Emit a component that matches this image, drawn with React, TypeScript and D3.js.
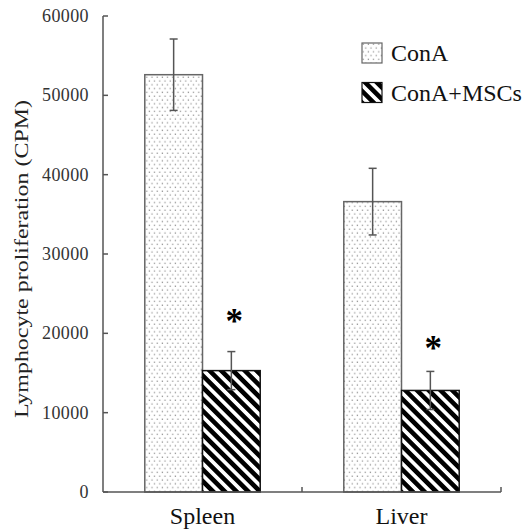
import React from "react";
import * as d3 from "d3";

const categories = ["Spleen", "Liver"];
const seriesNames = ["ConA", "ConA+MSCs"];
const conaValues = [52600, 36600];
const conaErrors = [4500, 4200];
const mscValues = [15300, 12800];
const mscErrors = [2400, 2400];
const asteriskValues = [22000, 18700];
const yTicks = [0, 10000, 20000, 30000, 40000, 50000, 60000];

const W = 524;
const H = 529;
const FONT = "'Liberation Serif', 'Times New Roman', serif";

export default function App() {
  const x = d3.scaleBand<string>().domain(categories).range([103, 501]).padding(0);
  const y = d3.scaleLinear().domain([0, 60000]).range([492, 16]);
  const bw = x.bandwidth();
  const gw = bw * 0.58;
  const x1 = d3
    .scaleBand<string>()
    .domain(seriesNames)
    .range([(bw - gw) / 2, (bw + gw) / 2])
    .padding(0);

  const series = [
    { name: seriesNames[0], values: conaValues, errors: conaErrors, fill: "url(#dots)", stroke: "#666" },
    { name: seriesNames[1], values: mscValues, errors: mscErrors, fill: "url(#hatch)", stroke: "#111" },
  ];
  const axisColor = "#555";
  const capW = 8;

  return (
    <svg width={W} height={H} style={{ position: "absolute", left: 0, top: 0, background: "#fff" }}>
      <defs>
        <pattern id="dots" patternUnits="userSpaceOnUse" width={5.2} height={7.6}>
          <rect width={5.2} height={7.6} fill="#fff" />
          <rect x={0.6} y={0.6} width={1.2} height={1.2} fill="#8a8a8a" />
          <rect x={3.2} y={4.4} width={1.2} height={1.2} fill="#8a8a8a" />
        </pattern>
        <pattern id="hatch" patternUnits="userSpaceOnUse" width={8.3} height={8.3} patternTransform="rotate(-45)">
          <rect width={8.3} height={8.3} fill="#fff" />
          <rect x={0} y={0} width={4.6} height={8.3} fill="#000" />
        </pattern>
      </defs>

      {/* bars */}
      {categories.map((c, ci) =>
        series.map((s) => {
          const bx = (x(c) ?? 0) + (x1(s.name) ?? 0);
          const v = s.values[ci];
          return (
            <rect
              key={c + s.name}
              x={bx}
              y={y(v)}
              width={x1.bandwidth()}
              height={y(0) - y(v)}
              fill={s.fill}
              stroke={s.stroke}
              strokeWidth={1.5}
            />
          );
        })
      )}

      {/* error bars */}
      {categories.map((c, ci) =>
        series.map((s) => {
          const cx = (x(c) ?? 0) + (x1(s.name) ?? 0) + x1.bandwidth() / 2;
          const v = s.values[ci];
          const e = s.errors[ci];
          return (
            <g key={"e" + c + s.name} stroke="#555" strokeWidth={1.5}>
              <line x1={cx} x2={cx} y1={y(v + e)} y2={y(v - e)} />
              <line x1={cx - capW / 2} x2={cx + capW / 2} y1={y(v + e)} y2={y(v + e)} />
              <line x1={cx - capW / 2} x2={cx + capW / 2} y1={y(v - e)} y2={y(v - e)} />
            </g>
          );
        })
      )}

      {/* asterisks */}
      {categories.map((c, ci) => {
        const cx = (x(c) ?? 0) + (x1(seriesNames[1]) ?? 0) + x1.bandwidth() / 2 + 3;
        return (
          <text
            key={"a" + c}
            x={cx}
            y={y(asteriskValues[ci]) + 16}
            textAnchor="middle"
            fontFamily={FONT}
            fontWeight="bold"
            fontSize={35}
            fill="#000"
          >
            *
          </text>
        );
      })}

      {/* y axis */}
      <line x1={103} x2={103} y1={y(60000)} y2={y(0)} stroke={axisColor} strokeWidth={1.5} />
      {yTicks.map((t) => (
        <g key={"t" + t}>
          <line x1={103} x2={108} y1={y(t)} y2={y(t)} stroke={axisColor} strokeWidth={1.5} />
          <text
            x={89}
            y={y(t) + 6}
            textAnchor="end"
            fontFamily={FONT}
            fontSize={18}
            letterSpacing={0.4}
            fill="#333"
          >
            {t}
          </text>
        </g>
      ))}

      {/* x axis */}
      <line x1={103} x2={501} y1={y(0)} y2={y(0)} stroke={axisColor} strokeWidth={1.5} />
      {categories.map((c) => (
        <line
          key={"xt" + c}
          x1={(x(c) ?? 0) + bw}
          x2={(x(c) ?? 0) + bw}
          y1={y(0)}
          y2={y(0) - 5}
          stroke={axisColor}
          strokeWidth={1.5}
        />
      ))}
      {categories.map((c) => (
        <text
          key={"xl" + c}
          x={(x(c) ?? 0) + bw / 2}
          y={524}
          textAnchor="middle"
          fontFamily={FONT}
          fontSize={24}
          fill="#111"
        >
          {c}
        </text>
      ))}

      {/* y title */}
      <text
        transform="translate(28,259) rotate(-90)"
        textAnchor="middle"
        fontFamily={FONT}
        fontSize={18}
        textLength={318}
        lengthAdjust="spacingAndGlyphs"
        fill="#222"
      >
        Lymphocyte proliferation (CPM)
      </text>

      {/* legend */}
      {series.map((s, i) => (
        <g key={"lg" + s.name} transform={`translate(362,${43 + i * 39.5})`}>
          <rect x={0} y={0} width={20} height={20} fill={s.fill} stroke={s.stroke} strokeWidth={1.2} />
          <text x={29} y={18} fontFamily={FONT} fontSize={24} fill="#111">
            {s.name}
          </text>
        </g>
      ))}
    </svg>
  );
}
